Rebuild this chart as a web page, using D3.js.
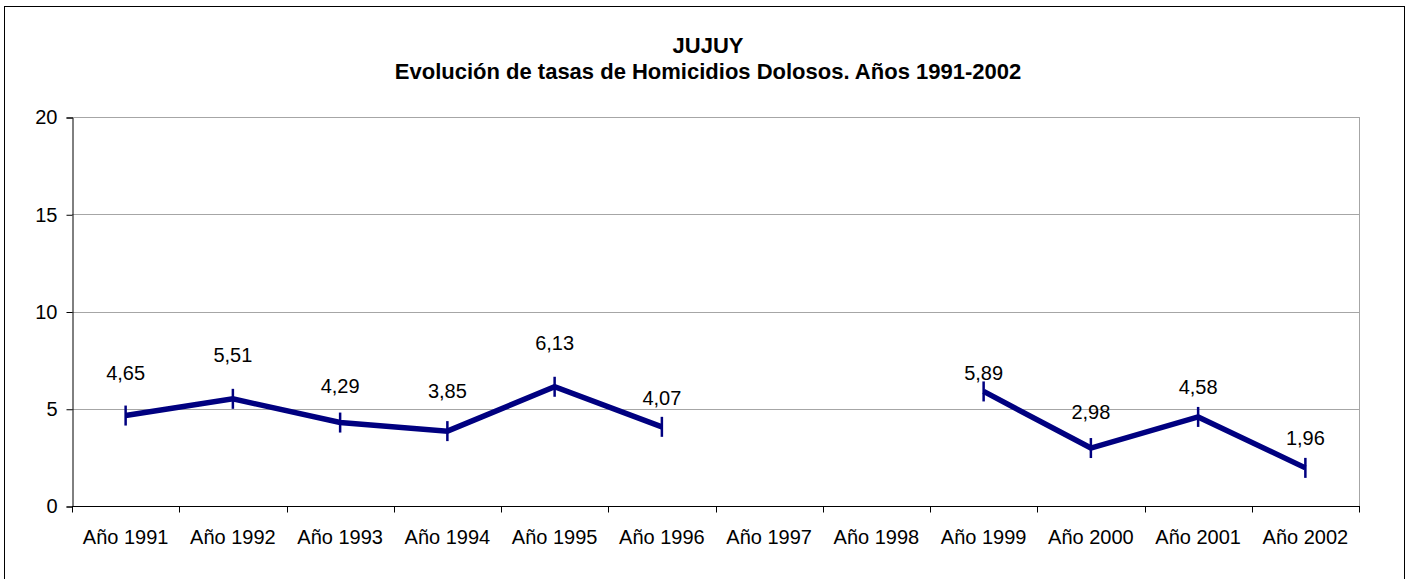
<!DOCTYPE html>
<html>
<head>
<meta charset="utf-8">
<script src="https://cdn.jsdelivr.net/npm/d3@7"></script>
<style>
  html, body { margin: 0; padding: 0; background: #fff; }
  svg { display: block; font-family: Arial, "Liberation Sans", sans-serif; }
</style>
</head>
<body>
<svg id="chart" width="1411" height="579"></svg>
<script>
// Homicide rates, Jujuy province, 1991-2002 (no data for 1997 and 1998)
const years = ["Año 1991", "Año 1992", "Año 1993", "Año 1994", "Año 1995", "Año 1996",
               "Año 1997", "Año 1998", "Año 1999", "Año 2000", "Año 2001", "Año 2002"];
const rates = [4.65, 5.51, 4.29, 3.85, 6.13, 4.07, null, null, 5.89, 2.98, 4.58, 1.96];
const yTicks = [0, 5, 10, 15, 20];
const titleLines = ["JUJUY", "Evolución de tasas de Homicidios Dolosos. Años 1991-2002"];

// vertical offset (px) of each value label above its point
const labelDy = [-43, -44, -37, -40, -44, -29, 0, 0, -18, -36, -30, -30];

const svg = d3.select("#chart");
const plot = { left: 72, right: 1359, top: 117, bottom: 506 };

// outer chart frame
svg.append("rect")
  .attr("x", 4.5).attr("y", 6.5)
  .attr("width", 1400).attr("height", 580)
  .attr("fill", "#fff").attr("stroke", "#000").attr("stroke-width", 1);

const x = d3.scaleBand().domain(years).range([plot.left, plot.right]).padding(0);
const y = d3.scaleLinear().domain([0, 20]).range([plot.bottom, plot.top]);

// horizontal gridlines
svg.append("g")
  .selectAll("line")
  .data(yTicks.filter(t => t > 0))
  .join("line")
  .attr("x1", plot.left).attr("x2", plot.right)
  .attr("y1", d => Math.round(y(d)) + 0.5).attr("y2", d => Math.round(y(d)) + 0.5)
  .attr("stroke", "#a6a6a6").attr("stroke-width", 1);

// right edge of plot area
svg.append("line")
  .attr("x1", plot.right + 0.5).attr("x2", plot.right + 0.5)
  .attr("y1", plot.top).attr("y2", plot.bottom)
  .attr("stroke", "#a6a6a6");

// y axis
const yAxis = svg.append("g")
  .attr("transform", `translate(${plot.left + 0.5},0.5)`)
  .call(d3.axisLeft(y).tickValues(yTicks).tickSize(6).tickPadding(9).tickFormat(d3.format("d")));
yAxis.select(".domain").attr("stroke", "#000");
yAxis.selectAll(".tick line").attr("stroke", "#000");
yAxis.selectAll(".tick text").attr("font-size", 20).attr("fill", "#000")
  .attr("font-family", "Arial, 'Liberation Sans', sans-serif");

// x axis with ticks on category boundaries
const xAxis = svg.append("g")
  .attr("transform", `translate(0,${plot.bottom + 0.5})`);
xAxis.append("line")
  .attr("x1", plot.left).attr("x2", plot.right + 1)
  .attr("stroke", "#000");
const bounds = years.map(d => x(d)).concat([x(years[years.length - 1]) + x.bandwidth()]);
xAxis.selectAll("line.tk")
  .data(bounds)
  .join("line").attr("class", "tk")
  .attr("x1", d => Math.round(d) + 0.5).attr("x2", d => Math.round(d) + 0.5)
  .attr("y1", 0).attr("y2", 6)
  .attr("stroke", "#000");
xAxis.selectAll("text")
  .data(years)
  .join("text")
  .attr("x", d => x(d) + x.bandwidth() / 2)
  .attr("y", 37)
  .attr("text-anchor", "middle")
  .attr("font-size", 20)
  .text(d => d);

// series line, broken where data is missing
const cx = i => x(years[i]) + x.bandwidth() / 2;
const pts = rates.map((v, i) => ({ v, i }));
const line = d3.line()
  .defined(d => d.v !== null)
  .x(d => cx(d.i))
  .y(d => y(d.v));

svg.append("path")
  .datum(pts)
  .attr("d", line)
  .attr("fill", "none")
  .attr("stroke", "#000080")
  .attr("stroke-width", 5.5)
  .attr("stroke-linejoin", "miter");

// dash markers
const valid = pts.filter(d => d.v !== null);
svg.append("g")
  .selectAll("line")
  .data(valid)
  .join("line")
  .attr("x1", d => cx(d.i)).attr("x2", d => cx(d.i))
  .attr("y1", d => y(d.v) - 10).attr("y2", d => y(d.v) + 10)
  .attr("stroke", "#000080").attr("stroke-width", 2.5);

// value labels
const fmt = v => v.toFixed(2).replace(".", ",");
svg.append("g")
  .selectAll("text")
  .data(valid)
  .join("text")
  .attr("x", d => cx(d.i))
  .attr("y", d => y(d.v) + labelDy[d.i])
  .attr("dy", "0.35em")
  .attr("text-anchor", "middle")
  .attr("font-size", 20)
  .attr("fill", "#000")
  .text(d => fmt(d.v));

// title
svg.append("g")
  .selectAll("text")
  .data(titleLines)
  .join("text")
  .attr("x", 708)
  .attr("y", (d, i) => 45 + i * 26)
  .attr("dy", "0.35em")
  .attr("text-anchor", "middle")
  .attr("font-size", 22)
  .attr("font-weight", "bold")
  .text(d => d);
</script>
</body>
</html>
